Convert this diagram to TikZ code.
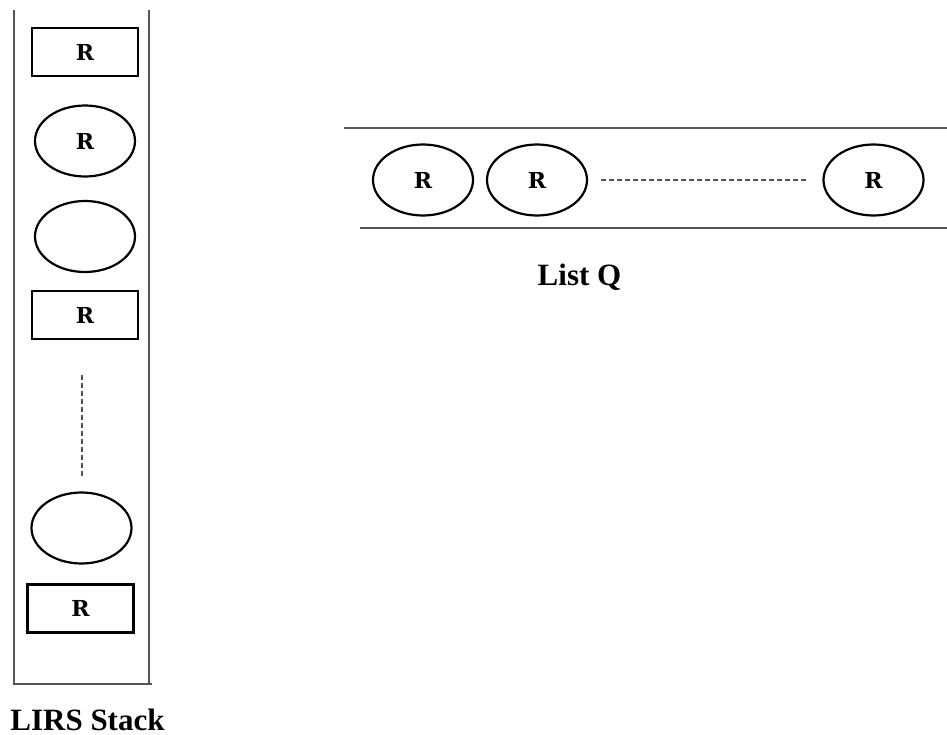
\documentclass[tikz,border=0pt]{standalone}
\usepackage{fontspec}
\setmainfont{Liberation Serif}
\newfontfamily\slabfont{DejaVu Serif}[BoldFont={DejaVu Serif Bold}]
\usetikzlibrary{shapes.geometric}
\definecolor{framegray}{HTML}{555555}
\tikzset{
  frameline/.style={draw=framegray, line width=1.7pt},
  item/.style={draw=black, line width=2.2pt, inner sep=0pt,
    font=\slabfont\bfseries\fontsize{22}{22}\selectfont},
  pagebox/.style={item, rectangle, minimum width=106pt, minimum height=48pt},
  refoval/.style={item, ellipse, minimum width=100pt, minimum height=71pt},
  gapline/.style={draw=framegray, line width=1.3pt, dash pattern=on 5pt off 3pt},
  caption/.style={font=\bfseries\fontsize{31}{31}\selectfont, inner sep=0pt, anchor=base}
}
\begin{document}
\begin{tikzpicture}[x=1pt, y=-1pt]
\useasboundingbox (0,0) rectangle (947,735);

% LIRS stack frame
\draw[frameline] (14,10) -- (14,684) -- (152,684);
\draw[frameline] (149,10) -- (149,684);

% stack entries
\node[pagebox] (s1) at (85,52) {R};
\node[refoval] (s2) at (85,141) {R};
\node[refoval] (s3) at (85,236.5) {};
\node[pagebox] (s4) at (85,315) {R};
\node[refoval] (s5) at (81.5,528) {};
\node[pagebox] (s6) at (80.5,608.5) {R};

\coordinate (gapTop) at (82,375);
\coordinate (gapBot) at (82,478);
\draw[gapline] (gapTop) -- (gapBot);

\node[caption] (stacklabel) at (87.5,730) {LIRS Stack};

% list Q
\draw[frameline] (344,128) -- (947,128);
\draw[frameline] (360,228) -- (947,228);

\node[refoval] (q1) at (423,180) {R};
\node[refoval] (q2) at (537,180) {R};
\node[refoval] (q3) at (873.5,180) {R};

\draw[gapline] ([xshift=13pt]q2.east) -- ([xshift=-14pt]q3.west);

\node[caption] (listlabel) at (579.5,285) {List Q};
\end{tikzpicture}
\end{document}
